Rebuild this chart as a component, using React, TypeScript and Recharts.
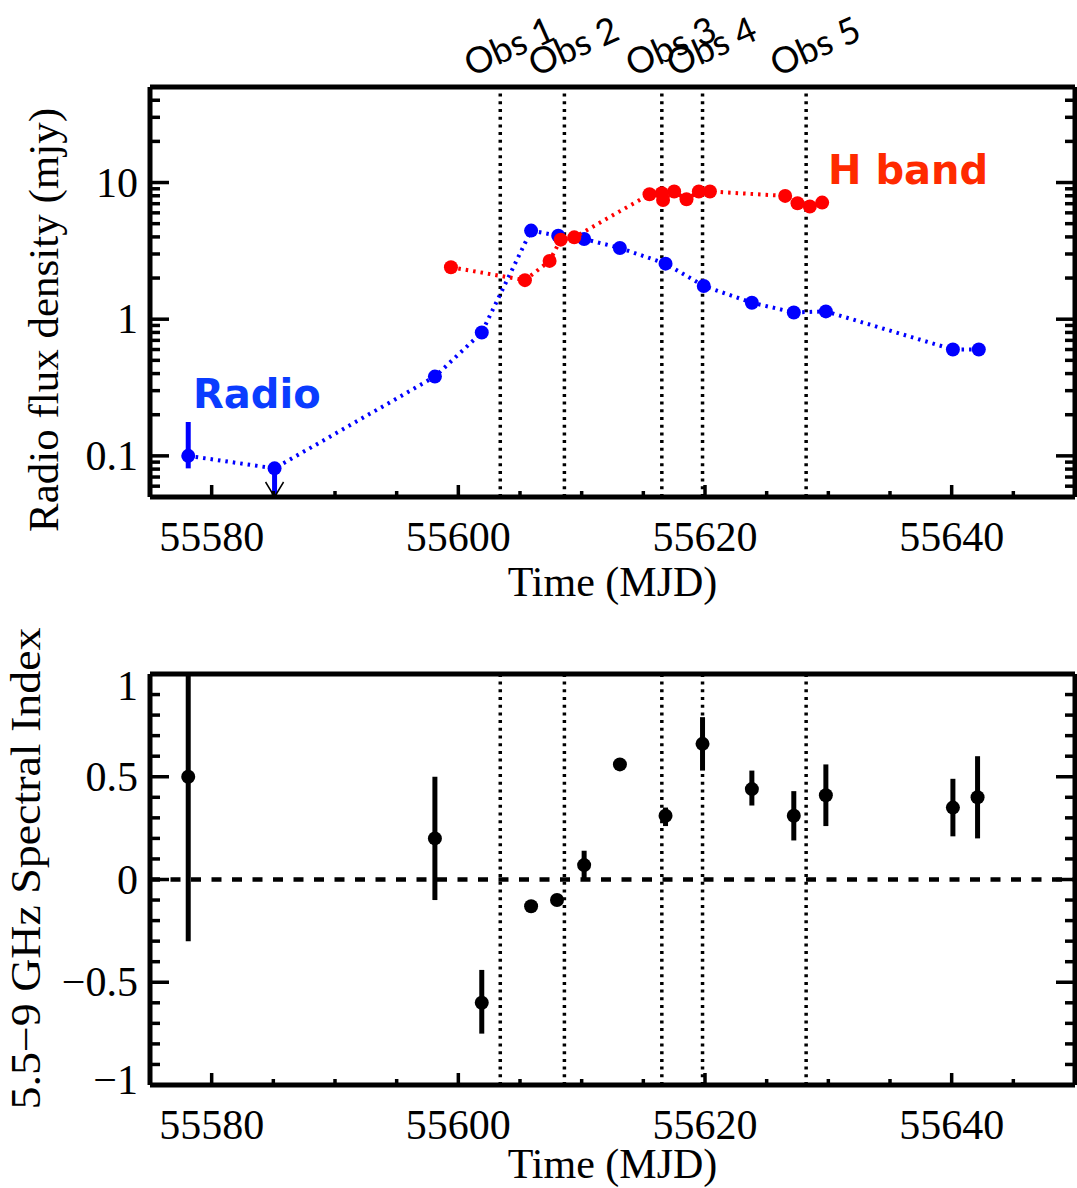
import React from "react";
import { ComposedChart, Scatter, XAxis, YAxis, ErrorBar, ReferenceLine } from "recharts";

// radio light curve (mJy); lo/hi are error bar bounds, null = no bar
const radioMjd = [55578.1, 55585.1, 55598.1, 55601.9, 55605.9, 55608.1, 55610.2, 55613.1, 55616.8, 55619.9, 55623.8, 55627.2, 55629.8, 55640.1, 55642.2];
const radioFlux = [0.1, 0.081, 0.38, 0.8, 4.45, 4.08, 3.86, 3.32, 2.55, 1.75, 1.32, 1.12, 1.14, 0.6, 0.6];
const radioLo = [0.081, 0.05, null, null, null, null, null, null, null, null, null, null, null, null, null];
const radioHi = [0.177, 0.081, null, null, null, null, null, null, null, null, null, null, null, null, null];
// upper limit arrow
const limitMjd = [55585.1];
const limitFlux = [0.05];

// H band
const hMjd = [55599.4, 55605.4, 55607.4, 55608.3, 55609.4, 55615.5, 55616.5, 55616.6, 55617.5, 55618.5, 55619.5, 55620.4, 55626.5, 55627.5, 55628.5, 55629.5];
const hFlux = [2.4, 1.93, 2.67, 3.82, 3.97, 8.2, 8.35, 7.45, 8.6, 7.55, 8.6, 8.6, 7.98, 7.06, 6.67, 7.13];

// 5.5-9 GHz spectral index
const siMjd = [55578.1, 55598.1, 55601.9, 55605.9, 55608.0, 55610.2, 55613.1, 55616.8, 55619.8, 55623.8, 55627.2, 55629.8, 55640.1, 55642.1];
const siVal = [0.5, 0.2, -0.6, -0.13, -0.1, 0.07, 0.56, 0.31, 0.66, 0.44, 0.31, 0.41, 0.35, 0.4];
const siLo = [-0.3, -0.1, -0.75, null, null, 0.0, null, 0.26, 0.53, 0.36, 0.19, 0.26, 0.21, 0.2];
const siHi = [1.0, 0.5, -0.44, null, null, 0.14, null, 0.35, 0.79, 0.53, 0.43, 0.56, 0.49, 0.6];

const obsMjd = [55603.4, 55608.6, 55616.5, 55619.8, 55628.2];
const obsNames = ["Obs 1", "Obs 2", "Obs 3", "Obs 4", "Obs 5"];

const xTicks = [55575, 55580, 55585, 55590, 55595, 55600, 55605, 55610, 55615, 55620, 55625, 55630, 55635, 55640, 55645, 55650];
const xMajor = [55580, 55600, 55620, 55640];
const fluxTicks = [0.05, 0.06, 0.07, 0.08, 0.09, 0.1, 0.2, 0.3, 0.4, 0.5, 0.6, 0.7, 0.8, 0.9, 1, 2, 3, 4, 5, 6, 7, 8, 9, 10, 20, 30, 40, 50];
const fluxMajor = [0.1, 1, 10];
const siTicks = [-1, -0.9, -0.8, -0.7, -0.6, -0.5, -0.4, -0.3, -0.2, -0.1, 0, 0.1, 0.2, 0.3, 0.4, 0.5, 0.6, 0.7, 0.8, 0.9, 1];
const siMajor = [-1, -0.5, 0, 0.5, 1];

const withErr = (xs: number[], ys: number[], lo: (number | null)[], hi: (number | null)[]) =>
  xs.map((t, i) => ({
    t,
    v: ys[i],
    err: lo[i] == null ? [0, 0] : [ys[i] - (lo[i] as number), (hi[i] as number) - ys[i]],
  }));

const radioData = withErr(radioMjd, radioFlux, radioLo, radioHi);
const limitData = limitMjd.map((t, i) => ({ t, v: limitFlux[i] }));
const hData = hMjd.map((t, i) => ({ t, v: hFlux[i] }));
const siData = withErr(siMjd, siVal, siLo, siHi);

const serif = '"Liberation Serif", "Times New Roman", serif';
const tickFont = { fontFamily: serif, fontSize: 42, fill: "#000" };
const fmt = (v: number) => (v < 0 ? "\u2212" + Math.abs(v) : String(v));
const TW = 3.5;

const XTickBottom = (p: any) => {
  const major = xMajor.includes(p.payload.value);
  return (
    <g>
      <line x1={p.x} y1={p.y} x2={p.x} y2={p.y - (major ? 12 : 6)} stroke="#000" strokeWidth={TW} />
      {major && (
        <text x={p.x} y={p.y + 40} textAnchor="middle" dominantBaseline="central" style={tickFont}>
          {p.payload.value}
        </text>
      )}
    </g>
  );
};

const XTickTop = (p: any) => {
  const major = xMajor.includes(p.payload.value);
  return <line x1={p.x} y1={p.y} x2={p.x} y2={p.y + (major ? 12 : 6)} stroke="#000" strokeWidth={TW} />;
};

const makeYTickLeft = (majors: number[]) => (p: any) => {
  const v = p.payload.value;
  const major = majors.includes(v);
  const dy = v === 1 && majors === siMajor ? 12 : v === -1 ? -5 : 0;
  return (
    <g>
      <line x1={p.x} y1={p.y} x2={p.x + (major ? 19 : 10)} y2={p.y} stroke="#000" strokeWidth={TW} />
      {major && (
        <text x={p.x - 12} y={p.y + dy} textAnchor="end" dominantBaseline="central" style={tickFont}>
          {fmt(v)}
        </text>
      )}
    </g>
  );
};

const makeYTickRight = (majors: number[]) => (p: any) => {
  const major = majors.includes(p.payload.value);
  return <line x1={p.x} y1={p.y} x2={p.x - (major ? 19 : 10)} y2={p.y} stroke="#000" strokeWidth={TW} />;
};

const makeXTitle = (dy: number) => (p: any) => (
  <text x={p.viewBox.x + p.viewBox.width / 2} y={p.viewBox.y + dy} textAnchor="middle" dominantBaseline="central" style={tickFont}>
    Time (MJD)
  </text>
);

const makeYTitle = (text: string, cx: number, dyc: number, len: number) => (p: any) => {
  const y = p.viewBox.y + p.viewBox.height / 2 + dyc;
  return (
    <text x={cx} y={y} transform={`rotate(-90 ${cx} ${y})`} textAnchor="middle" dominantBaseline="central"
      textLength={len} lengthAdjust="spacingAndGlyphs" style={tickFont}>
      {text}
    </text>
  );
};

const ObsLabel = (p: any) => {
  const x = p.viewBox.x - 29;
  const y = p.viewBox.y - 10;
  return (
    <text x={x} y={y} transform={`rotate(-24 ${x} ${y})`} style={{ fontFamily: "Lato, sans-serif", fontSize: 36, fill: "#000" }}>
      {p.value}
    </text>
  );
};

const dot = (color: string) => (p: any) => <circle cx={p.cx} cy={p.cy} r={7} fill={color} />;
const arrowHead = (p: any) => (
  <path d={`M${p.cx - 9},${p.cy - 15} L${p.cx},${p.cy} L${p.cx + 9},${p.cy - 15}`} stroke="#000" strokeWidth={1.5} fill="none" />
);

const frame = { stroke: "#000", strokeWidth: 5 };
const obsStyle = { stroke: "#000", strokeWidth: 3.5, strokeDasharray: "3 4.7" };
const dotted = { strokeWidth: 4, strokeDasharray: "2.5 5" };

const FluxChart = () => (
  <ComposedChart width={1077} height={610} margin={{ top: 86, right: 1, bottom: 0, left: 0 }}>
    <XAxis dataKey="t" type="number" domain={[55575, 55650]} ticks={xTicks} interval={0} allowDataOverflow
      height={113} tickSize={0} tickMargin={0} tickLine={false} axisLine={frame} tick={XTickBottom}
      label={{ content: makeXTitle(85) }} />
    <XAxis xAxisId="top" orientation="top" type="number" domain={[55575, 55650]} ticks={xTicks} interval={0} allowDataOverflow
      height={1} tickSize={0} tickMargin={0} tickLine={false} axisLine={frame} tick={XTickTop} />
    <YAxis dataKey="v" type="number" scale="log" domain={[0.05, 50]} ticks={fluxTicks} interval={0} allowDataOverflow
      width={150} tickSize={0} tickMargin={0} tickLine={false} axisLine={frame} tick={makeYTickLeft(fluxMajor)}
      label={{ content: makeYTitle("Radio flux density (mjy)", 44, 28, 424) }} />
    <YAxis yAxisId="right" orientation="right" type="number" scale="log" domain={[0.05, 50]} ticks={fluxTicks} interval={0} allowDataOverflow
      width={1} tickSize={0} tickMargin={0} tickLine={false} axisLine={frame} tick={makeYTickRight(fluxMajor)} />
    {obsMjd.map((m, i) => (
      <ReferenceLine key={m} x={m} {...obsStyle} label={{ value: obsNames[i], content: ObsLabel }} />
    ))}
    <Scatter data={radioData} shape={dot("#0000ff")} isAnimationActive={false}
      line={{ stroke: "#0000ff", ...dotted }}>
      <ErrorBar dataKey="err" direction="y" width={0} stroke="#0000ff" strokeWidth={5} isAnimationActive={false} />
    </Scatter>
    <Scatter data={limitData} shape={arrowHead} isAnimationActive={false} />
    <Scatter data={hData} shape={dot("#ff0000")} isAnimationActive={false}
      line={{ stroke: "#ff0000", ...dotted }} />
  </ComposedChart>
);

const IndexChart = () => (
  <ComposedChart width={1077} height={578} margin={{ top: 63, right: 1, bottom: 0, left: 0 }}>
    <XAxis dataKey="t" type="number" domain={[55575, 55650]} ticks={xTicks} interval={0} allowDataOverflow
      height={103} tickSize={0} tickMargin={0} tickLine={false} axisLine={frame} tick={XTickBottom}
      label={{ content: makeXTitle(79) }} />
    <XAxis xAxisId="top" orientation="top" type="number" domain={[55575, 55650]} ticks={xTicks} interval={0} allowDataOverflow
      height={1} tickSize={0} tickMargin={0} tickLine={false} axisLine={frame} tick={XTickTop} />
    <YAxis dataKey="v" type="number" domain={[-1, 1]} ticks={siTicks} interval={0} allowDataOverflow
      width={150} tickSize={0} tickMargin={0} tickLine={false} axisLine={frame} tick={makeYTickLeft(siMajor)}
      label={{ content: makeYTitle("5.5\u22129 GHz Spectral Index", 26, -11, 482) }} />
    <YAxis yAxisId="right" orientation="right" type="number" domain={[-1, 1]} ticks={siTicks} interval={0} allowDataOverflow
      width={1} tickSize={0} tickMargin={0} tickLine={false} axisLine={frame} tick={makeYTickRight(siMajor)} />
    {obsMjd.map((m) => (
      <ReferenceLine key={m} x={m} {...obsStyle} />
    ))}
    <ReferenceLine y={0} stroke="#000" strokeWidth={4.5} strokeDasharray="10 10.5" />
    <Scatter data={siData} shape={dot("#000")} isAnimationActive={false}>
      <ErrorBar dataKey="err" direction="y" width={0} stroke="#000" strokeWidth={5} isAnimationActive={false} />
    </Scatter>
  </ComposedChart>
);

const annot = { fontFamily: '"DejaVu Sans", sans-serif', fontWeight: 700, fontSize: 40 };

export default function App() {
  return (
    <div style={{ position: "absolute", left: 0, top: 0, width: 1077, height: 1188, background: "#fff" }}>
      <FluxChart />
      <IndexChart />
      <svg width={1077} height={1188} style={{ position: "absolute", left: 0, top: 0, pointerEvents: "none" }}>
        <text x={193} y={408} style={{ ...annot, fill: "#0a3cff" }}>Radio</text>
        <text x={828} y={184} style={{ ...annot, fill: "#ff2a00" }}>H band</text>
      </svg>
    </div>
  );
}
